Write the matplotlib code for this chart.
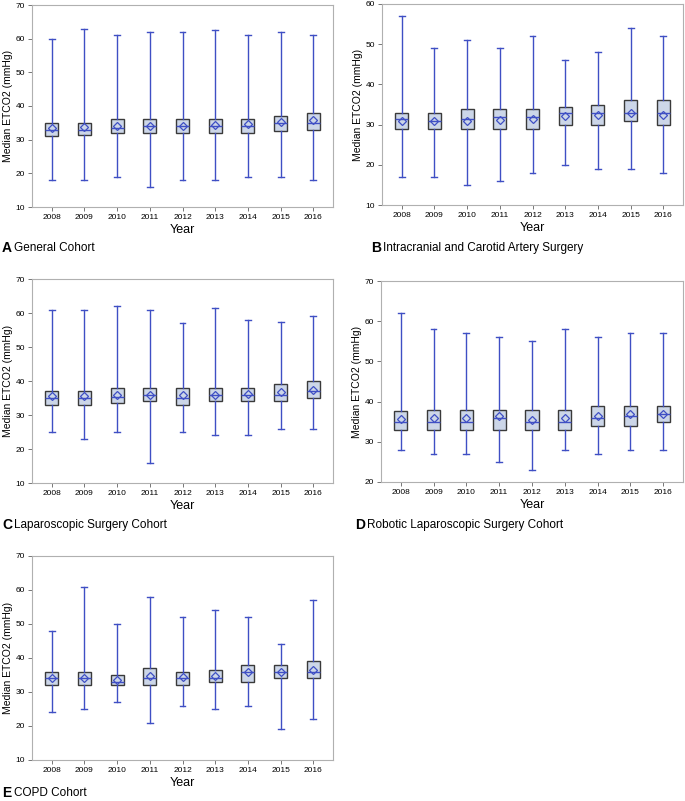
import matplotlib
matplotlib.use("Agg")
import matplotlib.pyplot as plt

plt.rcParams['font.family'] = ['Liberation Sans', 'DejaVu Sans']

years = ["2008", "2009", "2010", "2011", "2012", "2013", "2014", "2015", "2016"]

# Panel A: General Cohort
a_low = [18, 18, 19, 16, 18, 18, 19, 19, 18]
a_q1 = [31, 31.5, 32, 32, 32, 32, 32, 32.5, 33]
a_med = [33, 33, 33.5, 34, 34, 34, 34, 35, 35]
a_q3 = [35, 35, 36, 36, 36, 36, 36, 37, 38]
a_high = [60, 63, 61, 62, 62, 62.5, 61, 62, 61]
a_mean = [33.5, 33.7, 34, 34, 34, 34.4, 34.7, 35.2, 35.8]

# Panel B: Intracranial and Carotid Artery Surgery
b_low = [17, 17, 15, 16, 18, 20, 19, 19, 18]
b_q1 = [29, 29, 29, 29, 29, 30, 30, 31, 30]
b_med = [31.5, 31, 31.5, 32, 32, 33, 33, 33, 33]
b_q3 = [33, 33, 34, 34, 34, 34.5, 35, 36, 36]
b_high = [57, 49, 51, 49, 52, 46, 48, 54, 52]
b_mean = [31, 30.8, 31, 31.2, 31.5, 32.2, 32.5, 33, 32.3]

# Panel C: Laparoscopic Surgery Cohort
c_low = [25, 23, 25, 16, 25, 24, 24, 26, 26]
c_q1 = [33, 33, 33.5, 34, 33, 34, 34, 34, 35]
c_med = [35, 35, 35.3, 36, 35, 36, 36, 36, 37]
c_q3 = [37, 37.2, 38, 38, 38, 38, 38, 39, 40]
c_high = [61, 61, 62, 61, 57, 61.5, 58, 57.5, 59]
c_mean = [35.5, 35.7, 36, 36, 36, 36, 36.3, 36.8, 37.5]

# Panel D: Robotic Laparoscopic Surgery Cohort
d_low = [28, 27, 27, 25, 23, 28, 27, 28, 28]
d_q1 = [33, 33, 33, 33, 33, 33, 34, 34, 35]
d_med = [35, 35, 35, 36, 35, 35, 36, 36.3, 37]
d_q3 = [37.7, 38, 38, 38, 38, 38, 39, 39, 39]
d_high = [62, 58, 57, 56, 55, 58, 56, 57, 57]
d_mean = [35.7, 36, 36, 36.3, 35.5, 35.8, 36.5, 36.8, 37]

# Panel E: COPD Cohort
e_low = [24, 25, 27, 21, 26, 25, 26, 19, 22]
e_q1 = [32, 32, 32, 32, 32, 33, 33, 34, 34]
e_med = [34, 34, 33, 34, 34, 34, 36, 36, 36]
e_q3 = [36, 36, 35, 37, 36, 36.5, 38, 38, 39]
e_high = [48, 61, 50, 58, 52, 54, 52, 44, 57]
e_mean = [34, 34, 33.5, 34.7, 34.5, 34.8, 36, 36, 36.5]

panels = [
    ("A", "General Cohort", (a_low, a_q1, a_med, a_q3, a_high, a_mean), (10, 70),
     (32, 5, 333, 207), (2, 248)),
    ("B", "Intracranial and Carotid Artery Surgery", (b_low, b_q1, b_med, b_q3, b_high, b_mean), (10, 60),
     (382, 4, 683, 205), (371, 248)),
    ("C", "Laparoscopic Surgery Cohort", (c_low, c_q1, c_med, c_q3, c_high, c_mean), (10, 70),
     (32, 279, 333, 483), (2, 525)),
    ("D", "Robotic Laparoscopic Surgery Cohort", (d_low, d_q1, d_med, d_q3, d_high, d_mean), (20, 70),
     (381, 281, 683, 482), (355, 525)),
    ("E", "COPD Cohort", (e_low, e_q1, e_med, e_q3, e_high, e_mean), (10, 70),
     (32, 556, 333, 760), (2, 793)),
]

W, H = 685, 801
fig = plt.figure(figsize=(W / 100, H / 100), dpi=100)

BLUE = "#3f4fc4"
FILL = "#ccd6e8"
EDGE = "#3a3a3a"
FRAME = "#b0b0b0"

for letter, title, (lo, q1, med, q3, hi, mean), ylim, (l, t, r, b), (cx, cy) in panels:
    ax = fig.add_axes([l / W, 1 - b / H, (r - l) / W, (b - t) / H])
    stats = []
    for i in range(len(years)):
        stats.append(dict(label=years[i], whislo=lo[i], q1=q1[i], med=med[i],
                          q3=q3[i], whishi=hi[i], mean=mean[i], fliers=[]))
    ax.bxp(stats, positions=range(len(years)), widths=0.4, showmeans=True,
           patch_artist=True, showfliers=False,
           boxprops=dict(facecolor=FILL, edgecolor=EDGE, linewidth=1.0),
           medianprops=dict(color=BLUE, linewidth=1.0),
           whiskerprops=dict(color=BLUE, linewidth=1.0),
           capprops=dict(color=BLUE, linewidth=1.0),
           meanprops=dict(marker="D", markerfacecolor="none", markeredgecolor=BLUE,
                          markersize=3.6, markeredgewidth=0.9),
           capwidths=0.18, zorder=3)
    ax.set_xlim(-0.6, len(years) - 0.4)
    ax.set_ylim(*ylim)
    ax.set_yticks(range(ylim[0], ylim[1] + 1, 10))
    ax.set_xticks(range(len(years)))
    ax.set_xticklabels(years)
    for s in ax.spines.values():
        s.set_color(FRAME)
        s.set_linewidth(0.8)
    ax.tick_params(axis="both", labelsize=6, color="#606060", length=3, width=0.6, pad=2)
    ax.set_xlabel("Year", fontsize=9, labelpad=2)
    ax.set_ylabel("Median ETCO2 (mmHg)", fontsize=7.5, labelpad=1.5)
    fig.text(cx / W, 1 - cy / H, letter, fontsize=10, fontweight="bold", va="center", ha="left")
    fig.text((cx + 12) / W, 1 - cy / H, title, fontsize=8.5, va="center", ha="left")

fig.savefig("out.png", dpi=100)
